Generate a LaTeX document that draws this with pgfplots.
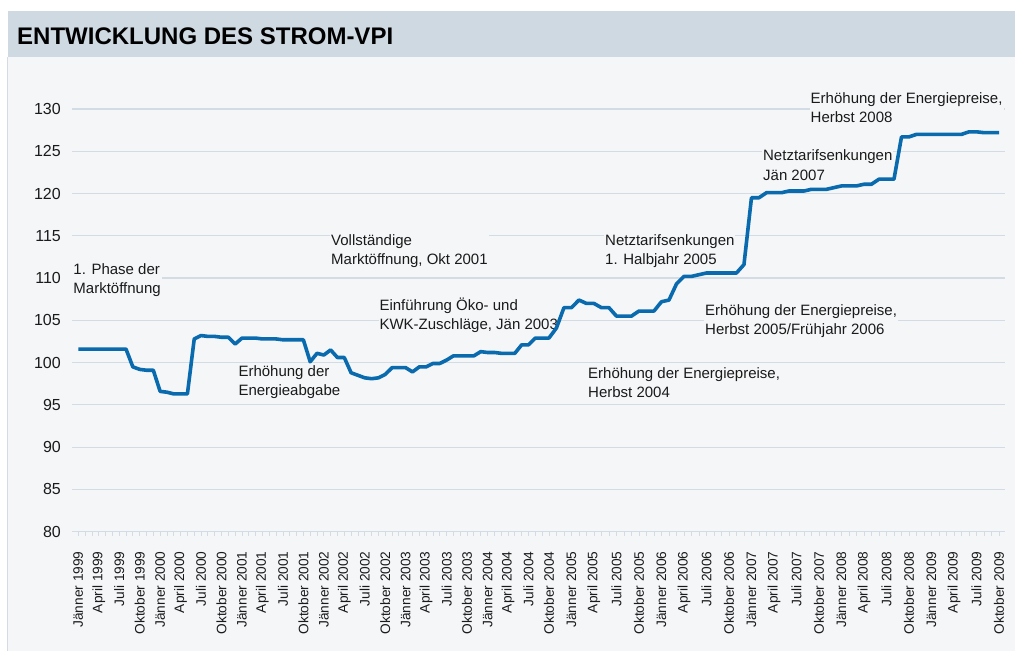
\documentclass[border=0pt]{standalone}
\usepackage{fontspec}
\setmainfont{Liberation Sans}
\usepackage{pgfplots}
\usepackage{pgfplotstable}
\pgfplotsset{compat=1.18}

\definecolor{band}{HTML}{CFD9E2}
\definecolor{panel}{HTML}{F4F6F8}
\definecolor{gridc}{HTML}{D3DCE5}
\definecolor{vpiblue}{HTML}{0A6AAE}
\definecolor{txt}{HTML}{1A1A1A}

% month index (0 = Jaenner 1999) and index value
\pgfplotstableread{
m v
0 101.6
1 101.6
2 101.6
3 101.6
4 101.6
5 101.6
6 101.6
7 101.6
8 99.5
9 99.2
10 99.1
11 99.1
12 96.6
13 96.5
14 96.3
15 96.3
16 96.3
17 102.8
18 103.2
19 103.1
20 103.1
21 103.0
22 103.0
23 102.2
24 102.9
25 102.9
26 102.9
27 102.8
28 102.8
29 102.8
30 102.7
31 102.7
32 102.7
33 102.7
34 100.1
35 101.1
36 100.9
37 101.5
38 100.6
39 100.6
40 98.8
41 98.5
42 98.2
43 98.1
44 98.2
45 98.6
46 99.4
47 99.4
48 99.4
49 98.9
50 99.5
51 99.5
52 99.9
53 99.9
54 100.3
55 100.8
56 100.8
57 100.8
58 100.8
59 101.3
60 101.2
61 101.2
62 101.1
63 101.1
64 101.1
65 102.1
66 102.1
67 102.9
68 102.9
69 102.9
70 104.1
71 106.5
72 106.5
73 107.4
74 107.0
75 107.0
76 106.5
77 106.5
78 105.5
79 105.5
80 105.5
81 106.1
82 106.1
83 106.1
84 107.2
85 107.4
86 109.3
87 110.2
88 110.2
89 110.4
90 110.6
91 110.6
92 110.6
93 110.6
94 110.6
95 111.6
96 119.5
97 119.5
98 120.1
99 120.1
100 120.1
101 120.3
102 120.3
103 120.3
104 120.5
105 120.5
106 120.5
107 120.7
108 120.9
109 120.9
110 120.9
111 121.1
112 121.1
113 121.7
114 121.7
115 121.7
116 126.7
117 126.7
118 127.0
119 127.0
120 127.0
121 127.0
122 127.0
123 127.0
124 127.0
125 127.3
126 127.3
127 127.2
128 127.2
129 127.2
}\vpidata

\begin{document}
\begin{tikzpicture}[x=1pt,y=1pt]
% background and title band
\fill[white] (0,0) rectangle (1015,651);
\fill[band] (7.5,594) rectangle (1015,639.5);
\fill[panel] (7.5,0) rectangle (1015,594);
\draw[gridc, line width=1pt] (7.5,0) -- (7.5,594);
\node[anchor=base west, inner sep=0pt, text=black,
      font=\fontsize{24}{26}\selectfont\bfseries] at (17,606) {ENTWICKLUNG DES STROM-VPI};

\begin{axis}[
  at={(72pt,119.3pt)}, anchor=south west,
  scale only axis, width=933pt, height=422.7pt,
  x coord trafo/.code={\pgfmathparse{((#1)<=69)*(78.3+6.82*(#1))+((#1)>69)*(548.9+7.5*((#1)-69))}},
  xmin=-0.92, xmax=129.8,
  ymin=80, ymax=130,
  ytick={80,85,...,130},
  xtick={0,3,...,129},
  minor xtick={0,...,129},
  xticklabels={J\"anner 1999,April 1999,Juli 1999,Oktober 1999,
    J\"anner 2000,April 2000,Juli 2000,Oktober 2000,
    J\"anner 2001,April 2001,Juli 2001,Oktober 2001,
    J\"anner 2002,April 2002,Juli 2002,Oktober 2002,
    J\"anner 2003,April 2003,Juli 2003,Oktober 2003,
    J\"anner 2004,April 2004,Juli 2004,Oktober 2004,
    J\"anner 2005,April 2005,Juli 2005,Oktober 2005,
    J\"anner 2006,April 2006,Juli 2006,Oktober 2006,
    J\"anner 2007,April 2007,Juli 2007,Oktober 2007,
    J\"anner 2008,April 2008,Juli 2008,Oktober 2008,
    J\"anner 2009,April 2009,Juli 2009,Oktober 2009},
  axis x line*=bottom, axis y line*=left,
  x axis line style={gridc, line width=1.2pt, -},
  y axis line style={draw=none},
  ytick style={draw=none},
  x tick style={gridc, line width=0.8pt},
  tick align=outside,
  major tick length=4pt, minor tick length=4pt,
  ymajorgrids,
  grid style={gridc, line width=1.2pt},
  xticklabel style={font=\fontsize{13.7}{14}\selectfont, text=txt, rotate=90, anchor=east, inner sep=0pt},
  xticklabel shift=15.5pt,
  yticklabel style={font=\fontsize{16}{17}\selectfont, text=txt, anchor=east, inner sep=0pt, xshift=-7pt},
  /pgf/number format/assume math mode=true,
  clip=false,
]
\begin{scope}[every node/.style={anchor=west, align=left, fill=panel, inner sep=1pt, text=txt,
    font=\fontsize{15}{19.5}\selectfont}]
\node at (rel axis cs:0.0003,0.5955) {1. Phase der\\Marktöffnung};
\node at (rel axis cs:0.1772,0.3542) {Erhöhung der\\Energieabgabe};
\node at (rel axis cs:0.2765,0.6641) {Vollständige\\Marktöffnung, Okt 2001};
\node at (rel axis cs:0.3283,0.5115) {Einführung Öko- und\\KWK-Zuschläge, Jän 2003};
\node at (rel axis cs:0.5702,0.6641) {Netztarifsenkungen\\1. Halbjahr 2005};
\node at (rel axis cs:0.5520,0.3530) {Erhöhung der Energiepreise,\\Herbst 2004};
\node at (rel axis cs:0.6774,0.4985) {Erhöhung der Energiepreise,\\Herbst 2005/Frühjahr 2006};
\node at (rel axis cs:0.7395,0.8675) {Netztarifsenkungen\\Jän 2007};
\node at (rel axis cs:0.7905,1.0036) {Erhöhung der Energiepreise,\\Herbst 2008};
\end{scope}

\addplot[vpiblue, line width=3.6pt, line join=round] table[x=m, y=v] {\vpidata};
\end{axis}
\pgfresetboundingbox
\path (0,0) rectangle (1015,651);
\end{tikzpicture}
\end{document}
